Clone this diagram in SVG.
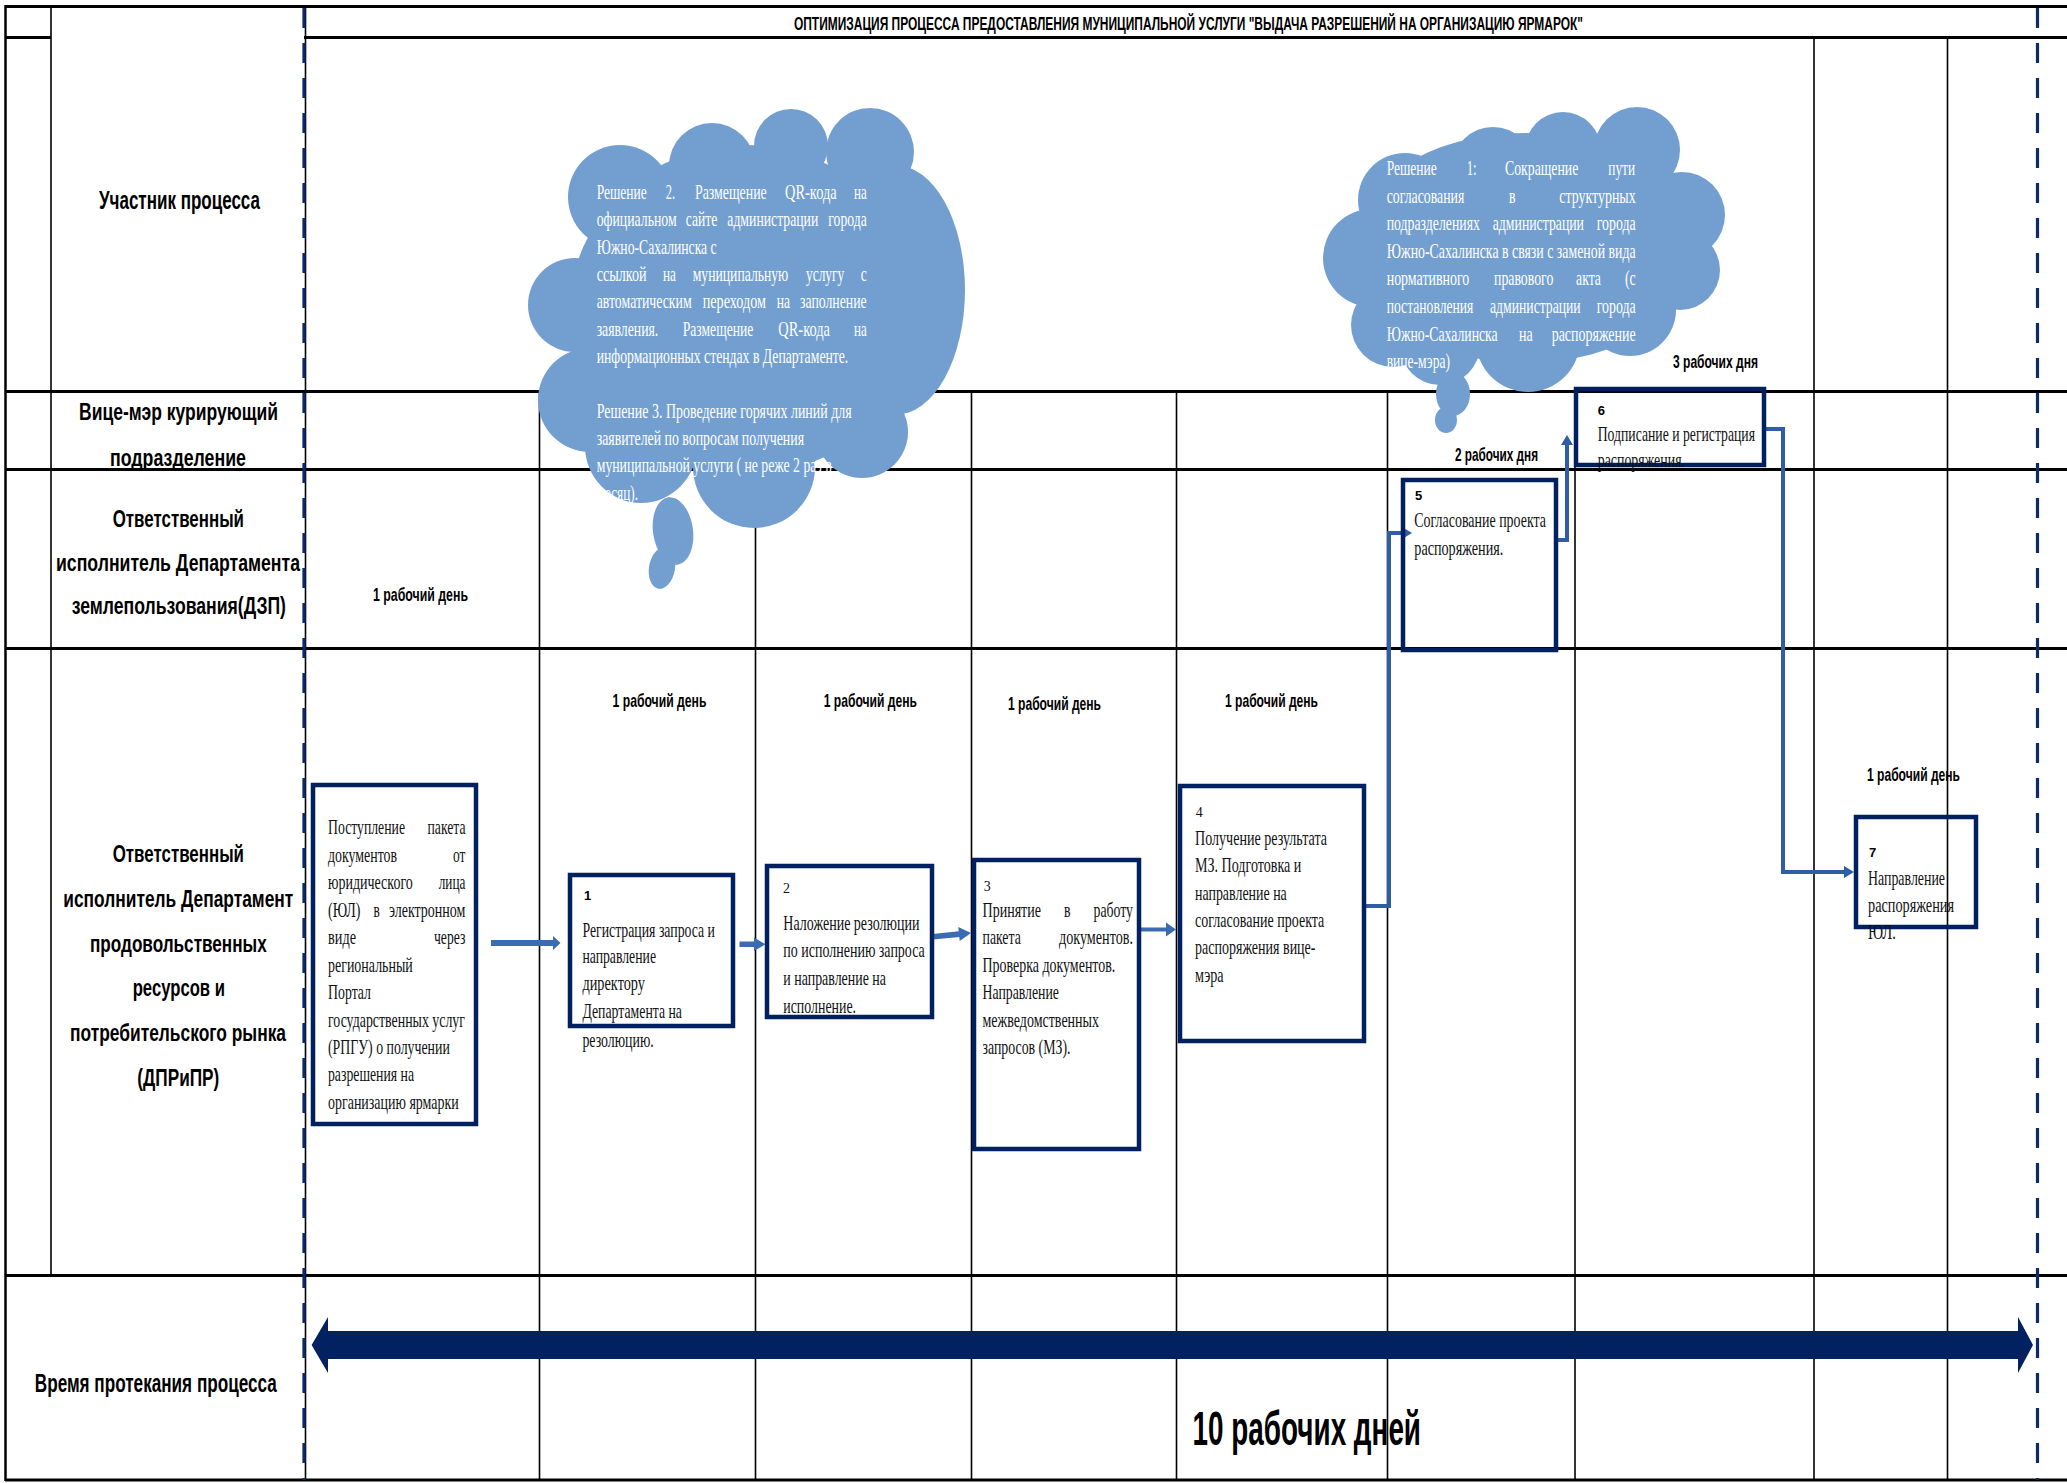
<svg xmlns="http://www.w3.org/2000/svg" width="2067" height="1483" viewBox="0 0 2067 1483">
<style>
.gl{stroke:#000;fill:none}
.h{stroke-width:3}
.v{stroke-width:1.6}
.dash{stroke:#0B2A66;stroke-width:3.2;stroke-dasharray:20 15;fill:none}
.box{fill:none;stroke:#002060;stroke-width:4.5}
.cloud{fill:#739FD0}
.s{font-family:"Liberation Sans Narrow","Liberation Sans",Arial,sans-serif;font-weight:bold;fill:#000}
.t{font-family:"Liberation Serif","Times New Roman",serif;font-size:21px;fill:#111}
.cw{font-family:"Liberation Serif","Times New Roman",serif;font-size:21px;fill:#fff}
.conn{fill:none;stroke:#2F5DA6;stroke-width:4}
.fat{fill:#3A6BB3}
.big{fill:#022160}
.n{font-family:"Liberation Sans",Arial,sans-serif;font-weight:bold;font-size:13px;fill:#000}
.ns{font-family:"Liberation Serif",serif;font-size:14px;fill:#111}
</style>
<defs>
<marker id="ah" viewBox="0 0 10 10" refX="0" refY="5" markerWidth="10" markerHeight="12" markerUnits="userSpaceOnUse" orient="auto" preserveAspectRatio="none">
<path d="M0,0 L10,5 L0,10 z" fill="#2F5DA6"/>
</marker>
</defs>
<rect width="2067" height="1483" fill="#fff"/>

<g id="grid" class="gl">
<line class="h" x1="5" y1="6.5" x2="2067" y2="6.5" stroke-width="3.5"/>
<line class="h" x1="5" y1="37.5" x2="51" y2="37.5"/>
<line class="h" x1="304" y1="37.5" x2="2067" y2="37.5"/>
<line class="h" x1="5" y1="391.5" x2="2067" y2="391.5"/>
<line class="h" x1="5" y1="469.5" x2="2067" y2="469.5"/>
<line class="h" x1="5" y1="648.5" x2="2067" y2="648.5"/>
<line class="h" x1="5" y1="1275.5" x2="2067" y2="1275.5"/>
<line class="h" x1="5" y1="1480" x2="2067" y2="1480"/>
<line x1="5.5" y1="5" x2="5.5" y2="1481" stroke-width="2.5"/>
<line class="v" x1="51" y1="6" x2="51" y2="1275.5"/>
<line class="v" x1="305.5" y1="6" x2="305.5" y2="1480"/>
<line class="v" x1="539.5" y1="391.5" x2="539.5" y2="1480"/>
<line class="v" x1="755.5" y1="391.5" x2="755.5" y2="1480"/>
<line class="v" x1="971.5" y1="391.5" x2="971.5" y2="1480"/>
<line class="v" x1="1176.5" y1="391.5" x2="1176.5" y2="1480"/>
<line class="v" x1="1387.5" y1="391.5" x2="1387.5" y2="1480"/>
<line class="v" x1="1575" y1="391.5" x2="1575" y2="1480"/>
<line class="v" x1="1814" y1="37.5" x2="1814" y2="1480"/>
<line class="v" x1="1947.5" y1="37.5" x2="1947.5" y2="1480"/>
<line class="dash" x1="304" y1="8" x2="304" y2="1480"/>
<line class="dash" x1="2037.5" y1="8" x2="2037.5" y2="1480"/>
</g>

<g id="labels">
<text class="s" x="794" y="29.5" font-size="17.5" textLength="789" lengthAdjust="spacingAndGlyphs">ОПТИМИЗАЦИЯ ПРОЦЕССА ПРЕДОСТАВЛЕНИЯ МУНИЦИПАЛЬНОЙ УСЛУГИ "ВЫДАЧА РАЗРЕШЕНИЙ НА ОРГАНИЗАЦИЮ ЯРМАРОК"</text>
<text class="s" x="99" y="209" font-size="25" textLength="161" lengthAdjust="spacingAndGlyphs">Участник процесса</text>
<text class="s" x="79" y="420" font-size="24.5" textLength="199" lengthAdjust="spacingAndGlyphs">Вице-мэр курирующий</text>
<text class="s" x="110" y="466" font-size="24.5" textLength="136" lengthAdjust="spacingAndGlyphs">подразделение</text>
<text class="s" x="112.7" y="527" font-size="24.5" textLength="131.3" lengthAdjust="spacingAndGlyphs">Ответственный</text>
<text class="s" x="56" y="571" font-size="24.5" textLength="244" lengthAdjust="spacingAndGlyphs">исполнитель  Департамента</text>
<text class="s" x="71.7" y="614" font-size="24.5" textLength="214.3" lengthAdjust="spacingAndGlyphs">землепользования(ДЗП)</text>
<text class="s" x="112.7" y="862" font-size="24.5" textLength="131.3" lengthAdjust="spacingAndGlyphs">Ответственный</text>
<text class="s" x="63.3" y="907" font-size="24.5" textLength="230" lengthAdjust="spacingAndGlyphs">исполнитель Департамент</text>
<text class="s" x="90" y="952" font-size="24.5" textLength="176.7" lengthAdjust="spacingAndGlyphs">продовольственных</text>
<text class="s" x="132.7" y="996" font-size="24.5" textLength="92.3" lengthAdjust="spacingAndGlyphs">ресурсов и</text>
<text class="s" x="70" y="1041" font-size="24.5" textLength="216" lengthAdjust="spacingAndGlyphs">потребительского рынка</text>
<text class="s" x="137.3" y="1086" font-size="24.5" textLength="82" lengthAdjust="spacingAndGlyphs">(ДПРиПР)</text>
<text class="s" x="34.8" y="1392" font-size="25" textLength="242" lengthAdjust="spacingAndGlyphs">Время протекания процесса</text>
<text class="s" x="1192.6" y="1445" font-size="49" textLength="228.4" lengthAdjust="spacingAndGlyphs">10 рабочих дней</text>
<text class="s" x="373" y="601" font-size="19" textLength="95" lengthAdjust="spacingAndGlyphs">1 рабочий день</text>
<text class="s" x="612.5" y="707" font-size="19" textLength="94" lengthAdjust="spacingAndGlyphs">1 рабочий день</text>
<text class="s" x="823.7" y="707" font-size="19" textLength="93.3" lengthAdjust="spacingAndGlyphs">1 рабочий день</text>
<text class="s" x="1008" y="710" font-size="19" textLength="93" lengthAdjust="spacingAndGlyphs">1 рабочий день</text>
<text class="s" x="1225" y="707" font-size="19" textLength="93" lengthAdjust="spacingAndGlyphs">1 рабочий день</text>
<text class="s" x="1867" y="781" font-size="19" textLength="93" lengthAdjust="spacingAndGlyphs">1 рабочий день</text>
<text class="s" x="1455" y="461" font-size="19" textLength="83" lengthAdjust="spacingAndGlyphs">2 рабочих дня</text>
<text class="s" x="1673" y="368" font-size="19" textLength="85" lengthAdjust="spacingAndGlyphs">3 рабочих дня</text>
</g>

<g id="cloud-1">
<g class="cloud">
<ellipse cx="745" cy="310" rx="175" ry="165"/>
<circle cx="620" cy="197" r="52"/>
<circle cx="712" cy="166" r="43"/>
<circle cx="791" cy="146" r="37"/>
<circle cx="870" cy="152" r="44"/>
<ellipse cx="895" cy="290" rx="70" ry="125"/>
<circle cx="862" cy="432" r="46"/>
<circle cx="754" cy="467" r="61"/>
<ellipse cx="641" cy="446" rx="56" ry="57"/>
<circle cx="590" cy="400" r="52"/>
<circle cx="575" cy="305" r="47"/>
<ellipse cx="673" cy="531" rx="20" ry="34" transform="rotate(-8 673 531)"/>
<ellipse cx="662" cy="568" rx="13" ry="21" transform="rotate(10 662 568)"/>
</g>
<text class="cw" x="596.7" y="198.5" textLength="50" lengthAdjust="spacingAndGlyphs">Решение</text>
<text class="cw" x="665.7" y="198.5" textLength="9.3" lengthAdjust="spacingAndGlyphs">2.</text>
<text class="cw" x="695" y="198.5" textLength="71.7" lengthAdjust="spacingAndGlyphs">Размещение</text>
<text class="cw" x="785" y="198.5" textLength="51.7" lengthAdjust="spacingAndGlyphs">QR-кода</text>
<text class="cw" x="854" y="198.5" textLength="12.7" lengthAdjust="spacingAndGlyphs">на</text>
<text class="cw" x="596.7" y="226" textLength="80" lengthAdjust="spacingAndGlyphs">официальном</text>
<text class="cw" x="685.7" y="226" textLength="31.6" lengthAdjust="spacingAndGlyphs">сайте</text>
<text class="cw" x="727.3" y="226" textLength="91" lengthAdjust="spacingAndGlyphs">администрации</text>
<text class="cw" x="828.3" y="226" textLength="38.4" lengthAdjust="spacingAndGlyphs">города</text>
<text class="cw" x="596.7" y="253.5" textLength="120" lengthAdjust="spacingAndGlyphs">Южно-Сахалинска с</text>
<text class="cw" x="596.7" y="281" textLength="50" lengthAdjust="spacingAndGlyphs">ссылкой</text>
<text class="cw" x="663" y="281" textLength="13" lengthAdjust="spacingAndGlyphs">на</text>
<text class="cw" x="692.7" y="281" textLength="95.6" lengthAdjust="spacingAndGlyphs">муниципальную</text>
<text class="cw" x="806" y="281" textLength="38.3" lengthAdjust="spacingAndGlyphs">услугу</text>
<text class="cw" x="860.7" y="281" textLength="6" lengthAdjust="spacingAndGlyphs">с</text>
<text class="cw" x="596.7" y="308" textLength="95" lengthAdjust="spacingAndGlyphs">автоматическим</text>
<text class="cw" x="702.7" y="308" textLength="63.3" lengthAdjust="spacingAndGlyphs">переходом</text>
<text class="cw" x="776.7" y="308" textLength="13.3" lengthAdjust="spacingAndGlyphs">на</text>
<text class="cw" x="800" y="308" textLength="66.7" lengthAdjust="spacingAndGlyphs">заполнение</text>
<text class="cw" x="596.7" y="335.5" textLength="61.6" lengthAdjust="spacingAndGlyphs">заявления.</text>
<text class="cw" x="682.7" y="335.5" textLength="70.6" lengthAdjust="spacingAndGlyphs">Размещение</text>
<text class="cw" x="778.3" y="335.5" textLength="51.7" lengthAdjust="spacingAndGlyphs">QR-кода</text>
<text class="cw" x="854" y="335.5" textLength="12.7" lengthAdjust="spacingAndGlyphs">на</text>
<text class="cw" x="596.7" y="363" textLength="251.6" lengthAdjust="spacingAndGlyphs">информационных стендах в Департаменте.</text>
<text class="cw" x="596.7" y="417.5" textLength="255" lengthAdjust="spacingAndGlyphs">Решение  3. Проведение горячих линий для</text>
<text class="cw" x="596.7" y="445" textLength="207.3" lengthAdjust="spacingAndGlyphs">заявителей по вопросам получения</text>
<text class="cw" x="596.7" y="472" textLength="235" lengthAdjust="spacingAndGlyphs">муниципальной услуги ( не реже 2 раз в</text>
<text class="cw" x="596.7" y="499.5" textLength="41.3" lengthAdjust="spacingAndGlyphs">месяц).</text>
</g>

<g id="cloud-2">
<g class="cloud">
<ellipse cx="1525" cy="248" rx="175" ry="115"/>
<circle cx="1405" cy="200" r="47"/>
<circle cx="1372" cy="258" r="49"/>
<circle cx="1393" cy="325" r="42"/>
<circle cx="1440" cy="345" r="40"/>
<circle cx="1528" cy="340" r="52"/>
<circle cx="1630" cy="310" r="46"/>
<circle cx="1680" cy="270" r="40"/>
<circle cx="1682" cy="215" r="43"/>
<circle cx="1493" cy="168" r="41"/>
<circle cx="1563" cy="150" r="38"/>
<circle cx="1637" cy="150" r="43"/>
<ellipse cx="1453" cy="394" rx="17" ry="22"/>
<ellipse cx="1446" cy="420" rx="11" ry="13"/>
</g>
<text class="cw" x="1386.7" y="175" textLength="50" lengthAdjust="spacingAndGlyphs">Решение</text>
<text class="cw" x="1466.7" y="175" textLength="10" lengthAdjust="spacingAndGlyphs">1:</text>
<text class="cw" x="1505" y="175" textLength="73.3" lengthAdjust="spacingAndGlyphs">Сокращение</text>
<text class="cw" x="1608.3" y="175" textLength="26.7" lengthAdjust="spacingAndGlyphs">пути</text>
<text class="cw" x="1386.7" y="203" textLength="77.6" lengthAdjust="spacingAndGlyphs">согласования</text>
<text class="cw" x="1509" y="203" textLength="6.5" lengthAdjust="spacingAndGlyphs">в</text>
<text class="cw" x="1559.3" y="203" textLength="76.4" lengthAdjust="spacingAndGlyphs">структурных</text>
<text class="cw" x="1386.7" y="230" textLength="93.3" lengthAdjust="spacingAndGlyphs">подразделениях</text>
<text class="cw" x="1492.7" y="230" textLength="91.3" lengthAdjust="spacingAndGlyphs">администрации</text>
<text class="cw" x="1596.7" y="230" textLength="39" lengthAdjust="spacingAndGlyphs">города</text>
<text class="cw" x="1386.7" y="257.5" textLength="249" lengthAdjust="spacingAndGlyphs">Южно-Сахалинска в связи с заменой вида</text>
<text class="cw" x="1386.7" y="285" textLength="82.6" lengthAdjust="spacingAndGlyphs">нормативного</text>
<text class="cw" x="1494" y="285" textLength="59.3" lengthAdjust="spacingAndGlyphs">правового</text>
<text class="cw" x="1576" y="285" textLength="25" lengthAdjust="spacingAndGlyphs">акта</text>
<text class="cw" x="1625" y="285" textLength="10.7" lengthAdjust="spacingAndGlyphs">(с</text>
<text class="cw" x="1386.7" y="313" textLength="86.6" lengthAdjust="spacingAndGlyphs">постановления</text>
<text class="cw" x="1490" y="313" textLength="90.7" lengthAdjust="spacingAndGlyphs">администрации</text>
<text class="cw" x="1596.7" y="313" textLength="39" lengthAdjust="spacingAndGlyphs">города</text>
<text class="cw" x="1386.7" y="340.5" textLength="111" lengthAdjust="spacingAndGlyphs">Южно-Сахалинска</text>
<text class="cw" x="1519" y="340.5" textLength="13.7" lengthAdjust="spacingAndGlyphs">на</text>
<text class="cw" x="1551.7" y="340.5" textLength="84" lengthAdjust="spacingAndGlyphs">распоряжение</text>
<text class="cw" x="1386.7" y="368" textLength="63.3" lengthAdjust="spacingAndGlyphs">вице-мэра)</text>
</g>

<g id="connectors">
<polygon class="fat" points="491,940 553,940 553,936 560.5,943 553,950 553,946 491,946"/>
<polygon class="fat" points="739.5,941.5 754,941.5 754,937.5 765.5,944.3 754,951 754,947 739.5,947"/>
<polygon class="fat" points="932.7,934 958.7,931.3 958.3,927.1 971,932.9 959.7,941.1 959.3,936.9 933.3,939.6"/>
<polygon class="fat" points="1137.5,927.5 1166,927.5 1166,922.5 1176,929.5 1166,936.5 1166,931.5 1137.5,931.5"/>
<path class="conn" d="M1366,906 H1389 V533 H1402" marker-end="url(#ah)"/>
<path class="conn" d="M1557,540 H1567 V445" marker-end="url(#ah)"/>
<path class="conn" d="M1766,429 H1783 V872 H1844" marker-end="url(#ah)"/>
<polygon class="big" points="311.6,1345 328,1317 328,1331 2018,1331 2018,1317 2033,1345 2018,1373 2018,1359 328,1359 328,1373"/>
</g>

<g id="node-0">
<rect class="box" x="313" y="785" width="163" height="339"/>
<text class="t" x="328" y="834" textLength="77" lengthAdjust="spacingAndGlyphs">Поступление</text>
<text class="t" x="427.5" y="834" textLength="38" lengthAdjust="spacingAndGlyphs">пакета</text>
<text class="t" x="328" y="861.5" textLength="69" lengthAdjust="spacingAndGlyphs">документов</text>
<text class="t" x="453" y="861.5" textLength="12.4" lengthAdjust="spacingAndGlyphs">от</text>
<text class="t" x="328" y="889" textLength="84.8" lengthAdjust="spacingAndGlyphs">юридического</text>
<text class="t" x="438.7" y="889" textLength="26.7" lengthAdjust="spacingAndGlyphs">лица</text>
<text class="t" x="328" y="916.5" textLength="32.5" lengthAdjust="spacingAndGlyphs">(ЮЛ)</text>
<text class="t" x="373.5" y="916.5" textLength="6.3" lengthAdjust="spacingAndGlyphs">в</text>
<text class="t" x="389" y="916.5" textLength="76.4" lengthAdjust="spacingAndGlyphs">электронном</text>
<text class="t" x="328" y="944" textLength="28" lengthAdjust="spacingAndGlyphs">виде</text>
<text class="t" x="434" y="944" textLength="31.4" lengthAdjust="spacingAndGlyphs">через</text>
<text class="t" x="328" y="972" textLength="84.8" lengthAdjust="spacingAndGlyphs">региональный</text>
<text class="t" x="328" y="999" textLength="43" lengthAdjust="spacingAndGlyphs">Портал</text>
<text class="t" x="328" y="1026.5" textLength="137" lengthAdjust="spacingAndGlyphs">государственных услуг</text>
<text class="t" x="328" y="1053.5" textLength="121.8" lengthAdjust="spacingAndGlyphs">(РПГУ) о получении</text>
<text class="t" x="328" y="1081" textLength="86" lengthAdjust="spacingAndGlyphs">разрешения на</text>
<text class="t" x="328" y="1108.5" textLength="130.8" lengthAdjust="spacingAndGlyphs">организацию ярмарки</text>
</g>

<g id="node-1">
<rect class="box" x="570" y="875" width="163" height="151"/>
<text class="n" x="584" y="900">1</text>
<text class="t" x="582.4" y="936.5" textLength="132.6" lengthAdjust="spacingAndGlyphs">Регистрация запроса и</text>
<text class="t" x="582.4" y="963" textLength="73.6" lengthAdjust="spacingAndGlyphs">направление</text>
<text class="t" x="582.4" y="990" textLength="62.6" lengthAdjust="spacingAndGlyphs">директору</text>
<text class="t" x="582.4" y="1018" textLength="99.6" lengthAdjust="spacingAndGlyphs">Департамента на</text>
<text class="t" x="582.4" y="1046.5" textLength="71.4" lengthAdjust="spacingAndGlyphs">резолюцию.</text>
</g>

<g id="node-2">
<rect class="box" x="767" y="866" width="165" height="151"/>
<text class="ns" x="783" y="893">2</text>
<text class="t" x="783.3" y="930" textLength="136.2" lengthAdjust="spacingAndGlyphs">Наложение резолюции</text>
<text class="t" x="783.3" y="957" textLength="141.5" lengthAdjust="spacingAndGlyphs">по исполнению запроса</text>
<text class="t" x="783.3" y="985" textLength="102.7" lengthAdjust="spacingAndGlyphs">и направление на</text>
<text class="t" x="783.3" y="1012.5" textLength="72.7" lengthAdjust="spacingAndGlyphs">исполнение.</text>
</g>

<g id="node-3">
<rect class="box" x="974" y="860" width="165" height="289"/>
<text class="ns" x="983.7" y="891">3</text>
<text class="t" x="982.5" y="917" textLength="58.5" lengthAdjust="spacingAndGlyphs">Принятие</text>
<text class="t" x="1064" y="917" textLength="6.5" lengthAdjust="spacingAndGlyphs">в</text>
<text class="t" x="1093.5" y="917" textLength="39.5" lengthAdjust="spacingAndGlyphs">работу</text>
<text class="t" x="982.5" y="943.5" textLength="38.3" lengthAdjust="spacingAndGlyphs">пакета</text>
<text class="t" x="1059" y="943.5" textLength="74" lengthAdjust="spacingAndGlyphs">документов.</text>
<text class="t" x="982.5" y="971.5" textLength="132.8" lengthAdjust="spacingAndGlyphs">Проверка документов.</text>
<text class="t" x="982.5" y="998.5" textLength="76.5" lengthAdjust="spacingAndGlyphs">Направление</text>
<text class="t" x="982.5" y="1026.5" textLength="116.5" lengthAdjust="spacingAndGlyphs">межведомственных</text>
<text class="t" x="982.5" y="1053.5" textLength="88" lengthAdjust="spacingAndGlyphs">запросов (МЗ).</text>
</g>

<g id="node-4">
<rect class="box" x="1180" y="786" width="184" height="255"/>
<text class="ns" x="1195.7" y="817">4</text>
<text class="t" x="1195" y="845" textLength="132" lengthAdjust="spacingAndGlyphs">Получение результата</text>
<text class="t" x="1195" y="872" textLength="106.3" lengthAdjust="spacingAndGlyphs">МЗ. Подготовка и</text>
<text class="t" x="1195" y="899.5" textLength="91.8" lengthAdjust="spacingAndGlyphs">направление на</text>
<text class="t" x="1195" y="927" textLength="129.3" lengthAdjust="spacingAndGlyphs">согласование проекта</text>
<text class="t" x="1195" y="954" textLength="120.5" lengthAdjust="spacingAndGlyphs">распоряжения вице-</text>
<text class="t" x="1195" y="982" textLength="28.6" lengthAdjust="spacingAndGlyphs">мэра</text>
</g>

<g id="node-5">
<rect class="box" x="1403" y="480" width="153" height="170"/>
<text class="n" x="1415" y="500" font-size="12">5</text>
<text class="t" x="1414.3" y="527" textLength="131.7" lengthAdjust="spacingAndGlyphs">Согласование проекта</text>
<text class="t" x="1414.3" y="555" textLength="89" lengthAdjust="spacingAndGlyphs">распоряжения.</text>
</g>

<g id="node-6">
<rect class="box" x="1576" y="389" width="188" height="76"/>
<text class="n" x="1597.7" y="415">6</text>
<text class="t" x="1597.7" y="441" textLength="157.3" lengthAdjust="spacingAndGlyphs">Подписание и регистрация</text>
<text class="t" x="1597.7" y="467" textLength="87.3" lengthAdjust="spacingAndGlyphs">распоряжения.</text>
</g>

<g id="node-7">
<rect class="box" x="1856" y="817" width="120" height="110"/>
<text class="n" x="1869" y="857">7</text>
<text class="t" x="1868" y="885" textLength="77" lengthAdjust="spacingAndGlyphs">Направление</text>
<text class="t" x="1868" y="911.5" textLength="86" lengthAdjust="spacingAndGlyphs">распоряжения</text>
<text class="t" x="1868" y="938.5" textLength="28" lengthAdjust="spacingAndGlyphs">ЮЛ.</text>
</g>
</svg>
